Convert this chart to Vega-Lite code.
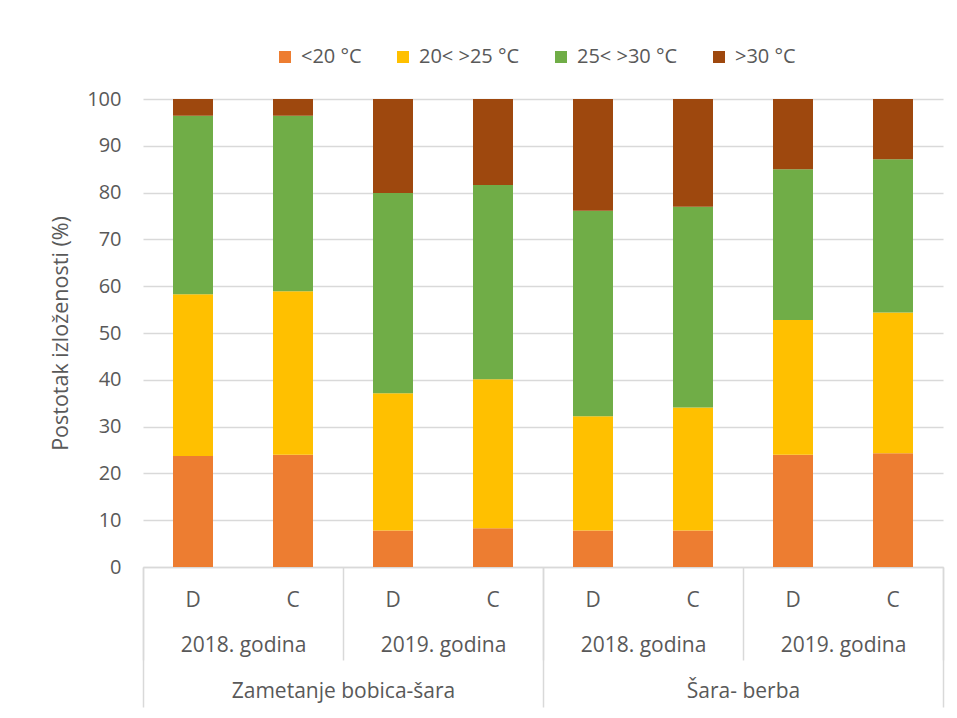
{
  "$schema": "https://vega.github.io/schema/vega-lite/v6.json",
  "width": 800,
  "height": 468,
  "autosize": "none",
  "padding": {"left": 143, "top": 99, "right": 14, "bottom": 151},
  "background": "white",
  "config": {
    "font": "Open Sans",
    "view": {"stroke": null},
    "axis": {
      "labelFont": "Open Sans",
      "labelFontSize": 21,
      "labelColor": "#595959",
      "titleFont": "Open Sans",
      "titleFontSize": 21.5,
      "titleFontWeight": "normal",
      "titleColor": "#595959",
      "domainColor": "#d9d9d9",
      "tickColor": "#d9d9d9",
      "gridColor": "#d9d9d9",
      "labelLimit": 400
    },
    "legend": {"labelFont": "Open Sans", "labelFontSize": 20, "labelColor": "#595959"}
  },
  "data": {
    "values": [
      {"period": "Zametanje bobica-šara", "year": "2018. godina", "trt": "D", "range": "<20 °C", "value": 23.7},
      {"period": "Zametanje bobica-šara", "year": "2018. godina", "trt": "D", "range": "20< >25 °C", "value": 34.6},
      {"period": "Zametanje bobica-šara", "year": "2018. godina", "trt": "D", "range": "25< >30 °C", "value": 38.1},
      {"period": "Zametanje bobica-šara", "year": "2018. godina", "trt": "D", "range": ">30 °C", "value": 3.6},
      {"period": "Zametanje bobica-šara", "year": "2018. godina", "trt": "C", "range": "<20 °C", "value": 24.0},
      {"period": "Zametanje bobica-šara", "year": "2018. godina", "trt": "C", "range": "20< >25 °C", "value": 34.9},
      {"period": "Zametanje bobica-šara", "year": "2018. godina", "trt": "C", "range": "25< >30 °C", "value": 37.5},
      {"period": "Zametanje bobica-šara", "year": "2018. godina", "trt": "C", "range": ">30 °C", "value": 3.6},
      {"period": "Zametanje bobica-šara", "year": "2019. godina", "trt": "D", "range": "<20 °C", "value": 7.8},
      {"period": "Zametanje bobica-šara", "year": "2019. godina", "trt": "D", "range": "20< >25 °C", "value": 29.3},
      {"period": "Zametanje bobica-šara", "year": "2019. godina", "trt": "D", "range": "25< >30 °C", "value": 42.8},
      {"period": "Zametanje bobica-šara", "year": "2019. godina", "trt": "D", "range": ">30 °C", "value": 20.1},
      {"period": "Zametanje bobica-šara", "year": "2019. godina", "trt": "C", "range": "<20 °C", "value": 8.3},
      {"period": "Zametanje bobica-šara", "year": "2019. godina", "trt": "C", "range": "20< >25 °C", "value": 31.8},
      {"period": "Zametanje bobica-šara", "year": "2019. godina", "trt": "C", "range": "25< >30 °C", "value": 41.5},
      {"period": "Zametanje bobica-šara", "year": "2019. godina", "trt": "C", "range": ">30 °C", "value": 18.4},
      {"period": "Šara- berba", "year": "2018. godina", "trt": "D", "range": "<20 °C", "value": 7.8},
      {"period": "Šara- berba", "year": "2018. godina", "trt": "D", "range": "20< >25 °C", "value": 24.4},
      {"period": "Šara- berba", "year": "2018. godina", "trt": "D", "range": "25< >30 °C", "value": 43.9},
      {"period": "Šara- berba", "year": "2018. godina", "trt": "D", "range": ">30 °C", "value": 23.9},
      {"period": "Šara- berba", "year": "2018. godina", "trt": "C", "range": "<20 °C", "value": 7.8},
      {"period": "Šara- berba", "year": "2018. godina", "trt": "C", "range": "20< >25 °C", "value": 26.3},
      {"period": "Šara- berba", "year": "2018. godina", "trt": "C", "range": "25< >30 °C", "value": 42.9},
      {"period": "Šara- berba", "year": "2018. godina", "trt": "C", "range": ">30 °C", "value": 23.0},
      {"period": "Šara- berba", "year": "2019. godina", "trt": "D", "range": "<20 °C", "value": 24.0},
      {"period": "Šara- berba", "year": "2019. godina", "trt": "D", "range": "20< >25 °C", "value": 28.8},
      {"period": "Šara- berba", "year": "2019. godina", "trt": "D", "range": "25< >30 °C", "value": 32.2},
      {"period": "Šara- berba", "year": "2019. godina", "trt": "D", "range": ">30 °C", "value": 15.0},
      {"period": "Šara- berba", "year": "2019. godina", "trt": "C", "range": "<20 °C", "value": 24.3},
      {"period": "Šara- berba", "year": "2019. godina", "trt": "C", "range": "20< >25 °C", "value": 30.1},
      {"period": "Šara- berba", "year": "2019. godina", "trt": "C", "range": "25< >30 °C", "value": 32.7},
      {"period": "Šara- berba", "year": "2019. godina", "trt": "C", "range": ">30 °C", "value": 12.9}
    ]
  },
  "transform": [
    {"calculate": "datum.period + '|' + datum.year", "as": "grp"},
    {"calculate": "datum.grp + '|' + datum.trt", "as": "bar"},
    {"calculate": "indexof(['<20 °C','20< >25 °C','25< >30 °C','>30 °C'], datum.range)", "as": "ri"}
  ],
  "layer": [
    {
      "mark": {"type": "bar"},
      "encoding": {
        "x": {
          "field": "bar",
          "type": "nominal",
          "sort": null,
          "scale": {"paddingInner": 0.6, "paddingOuter": 0.3},
          "axis": {
            "orient": "bottom",
            "title": null,
            "labelExpr": "split(datum.label, '|')[2]",
            "labelAngle": 0,
            "ticks": false,
            "domain": true,
            "domainWidth": 1.5,
            "labelPadding": 22
          }
        },
        "y": {
          "field": "value",
          "type": "quantitative",
          "stack": "zero",
          "scale": {"domain": [0, 100], "nice": false},
          "axis": {
            "title": "Postotak izloženosti (%)",
            "values": [0, 10, 20, 30, 40, 50, 60, 70, 80, 90, 100],
            "labelFontSize": 20,
            "ticks": false,
            "domain": false,
            "labelPadding": 22,
            "titlePadding": 14,
            "gridWidth": 1.5
          }
        },
        "color": {
          "field": "range",
          "type": "nominal",
          "scale": {
            "domain": ["<20 °C", "20< >25 °C", "25< >30 °C", ">30 °C"],
            "range": ["#ED7D31", "#FFC000", "#70AD47", "#9E480E"]
          },
          "legend": {
            "orient": "none",
            "legendX": 132,
            "legendY": -52,
            "direction": "horizontal",
            "title": null,
            "symbolType": "square",
            "symbolSize": 144,
            "symbolStrokeWidth": 0,
            "labelOffset": 6,
            "columnPadding": 31
          }
        },
        "order": {"field": "ri", "type": "quantitative", "sort": "ascending"}
      }
    },
    {
      "mark": {"type": "point", "opacity": 0},
      "encoding": {
        "x": {
          "field": "grp",
          "type": "nominal",
          "sort": null,
          "scale": {"paddingInner": 0, "paddingOuter": 0},
          "axis": {
            "orient": "bottom",
            "title": null,
            "labelExpr": "split(datum.label, '|')[1]",
            "labelAngle": 0,
            "domain": false,
            "grid": false,
            "tickBand": "extent",
            "tickSize": 93,
            "tickWidth": 1.5,
            "labelPadding": -26
          }
        }
      }
    },
    {
      "mark": {"type": "point", "opacity": 0},
      "encoding": {
        "x": {
          "field": "period",
          "type": "nominal",
          "sort": null,
          "scale": {"paddingInner": 0, "paddingOuter": 0},
          "axis": {
            "orient": "bottom",
            "title": null,
            "labelAngle": 0,
            "domain": false,
            "grid": false,
            "tickBand": "extent",
            "tickSize": 140,
            "tickWidth": 1.5,
            "labelPadding": -27
          }
        }
      }
    }
  ],
  "resolve": {"scale": {"x": "independent"}, "axis": {"x": "independent"}}
}
